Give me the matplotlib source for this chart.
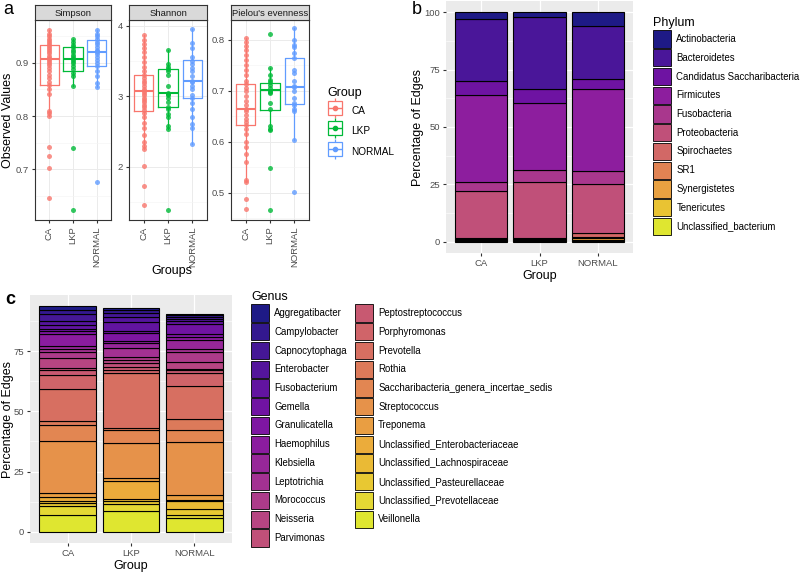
import numpy as np
import matplotlib
matplotlib.use('Agg')
import matplotlib.pyplot as plt
from matplotlib.patches import Patch
from matplotlib.lines import Line2D
from matplotlib.legend_handler import HandlerTuple

plt.rcParams['font.family'] = ['Liberation Sans', 'DejaVu Sans']

W, H = 800, 576

groups = ['CA', 'LKP', 'NORMAL']
group_colors = ['#F8766D', '#00BA38', '#619CFF']

# ---- panel a: alpha diversity (points per group) ----
simpson_CA = [0.963, 0.955, 0.950, 0.946, 0.942, 0.938, 0.934, 0.930, 0.926, 0.922, 0.918,
              0.914, 0.910, 0.907, 0.904, 0.900, 0.896, 0.890, 0.884, 0.878, 0.872, 0.865,
              0.858, 0.850, 0.842, 0.810, 0.805, 0.800, 0.742, 0.724, 0.702, 0.645]
simpson_LKP = [0.946, 0.940, 0.934, 0.930, 0.925, 0.920, 0.915, 0.911, 0.908, 0.904,
               0.900, 0.895, 0.888, 0.882, 0.875, 0.856, 0.740, 0.622]
simpson_NORMAL = [0.962, 0.955, 0.950, 0.945, 0.940, 0.935, 0.930, 0.925, 0.922, 0.920,
                  0.916, 0.912, 0.906, 0.900, 0.895, 0.885, 0.875, 0.862, 0.855, 0.676]
shannon_CA = [3.87, 3.80, 3.74, 3.68, 3.62, 3.55, 3.48, 3.42, 3.36, 3.30, 3.26, 3.22, 3.18,
              3.14, 3.10, 3.08, 3.05, 3.02, 2.98, 2.95, 2.92, 2.88, 2.84, 2.80, 2.76, 2.70,
              2.62, 2.55, 2.45, 2.35, 2.30, 2.25, 2.01, 1.72, 1.45]
shannon_LKP = [3.66, 3.45, 3.42, 3.38, 3.35, 3.30, 3.15, 3.05, 3.03, 3.02, 2.98, 2.92,
               2.85, 2.82, 2.75, 2.70, 2.58, 2.54, 1.38]
shannon_NORMAL = [3.95, 3.75, 3.68, 3.55, 3.50, 3.46, 3.40, 3.35, 3.28, 3.22, 3.20, 3.15,
                  3.10, 3.02, 2.98, 2.90, 2.82, 2.70, 2.60, 2.55, 2.32]
pielou_CA = [0.803, 0.795, 0.788, 0.780, 0.770, 0.760, 0.750, 0.740, 0.730, 0.720, 0.713,
             0.705, 0.700, 0.690, 0.680, 0.672, 0.665, 0.660, 0.652, 0.645, 0.638, 0.632,
             0.625, 0.615, 0.600, 0.590, 0.575, 0.560, 0.525, 0.520, 0.488, 0.468]
pielou_LKP = [0.811, 0.745, 0.730, 0.722, 0.718, 0.712, 0.705, 0.700, 0.698, 0.695, 0.675,
              0.665, 0.630, 0.625, 0.622, 0.548, 0.465]
pielou_NORMAL = [0.823, 0.800, 0.790, 0.785, 0.775, 0.765, 0.740, 0.735, 0.720, 0.710, 0.708,
                 0.700, 0.685, 0.675, 0.672, 0.665, 0.660, 0.603, 0.501]

# box stats per group: whisker low, q1, median, q3, whisker high
simpson_box = [[0.800, 0.858, 0.908, 0.933, 0.963],
               [0.856, 0.884, 0.908, 0.930, 0.946],
               [0.855, 0.895, 0.921, 0.943, 0.962]]
shannon_box = [[2.25, 2.79, 3.08, 3.30, 3.87],
               [2.53, 2.84, 3.04, 3.39, 3.66],
               [2.32, 2.98, 3.22, 3.51, 3.95]]
pielou_box = [[0.520, 0.632, 0.665, 0.713, 0.803],
              [0.622, 0.663, 0.702, 0.715, 0.745],
              [0.603, 0.673, 0.708, 0.765, 0.823]]

# ---- panel b: phylum composition ----
phylum_names = ['Actinobacteria', 'Bacteroidetes', 'Candidatus Saccharibacteria', 'Firmicutes',
                'Fusobacteria', 'Proteobacteria', 'Spirochaetes', 'SR1', 'Synergistetes',
                'Tenericutes', 'Unclassified_bacterium']
phylum_CA = [2.9, 26.9, 6.3, 37.7, 4.3, 20.4, 0.6, 0.1, 0.4, 0.1, 0.3]
phylum_LKP = [2.1, 31.5, 5.9, 29.1, 5.5, 24.2, 0.8, 0.1, 0.5, 0.1, 0.2]
phylum_NORMAL = [5.8, 23.3, 4.1, 36.1, 5.6, 21.4, 1.7, 0.6, 0.8, 0.2, 0.4]

# ---- panel c: genus composition ----
genus_names = ['Aggregatibacter', 'Campylobacter', 'Capnocytophaga', 'Enterobacter',
               'Fusobacterium', 'Gemella', 'Granulicatella', 'Haemophilus', 'Klebsiella',
               'Leptotrichia', 'Morococcus', 'Neisseria', 'Parvimonas', 'Peptostreptococcus',
               'Porphyromonas', 'Prevotella', 'Rothia', 'Saccharibacteria_genera_incertae_sedis',
               'Streptococcus', 'Treponema', 'Unclassified_Enterobacteriaceae',
               'Unclassified_Lachnospiraceae', 'Unclassified_Pasteurellaceae',
               'Unclassified_Prevotellaceae', 'Veillonella']
genus_CA = [1.7, 1.7, 2.7, 1.8, 1.4, 0.9, 1.4, 5.1, 1.0, 1.4, 2.5, 4.1, 0.7, 2.0, 6.0,
            13.2, 1.9, 6.6, 21.6, 1.4, 2.0, 0.7, 1.0, 4.1, 6.8]
genus_LKP = [0.8, 1.0, 1.8, 1.9, 3.8, 1.1, 3.0, 1.1, 1.9, 3.9, 1.1, 1.3, 1.7, 1.3, 1.0,
             23.0, 0.9, 5.2, 14.8, 1.0, 7.5, 1.1, 1.0, 3.0, 8.6]
genus_NORMAL = [0.6, 0.8, 0.8, 0.8, 1.1, 4.4, 1.1, 1.4, 3.6, 1.4, 4.1, 2.9, 0.5, 1.1, 5.5,
                13.7, 4.6, 5.0, 21.9, 2.0, 0.6, 3.1, 2.5, 1.6, 5.5]

TXT = '#4D4D4D'
TICK_FS = 6.8
fig = plt.figure(figsize=(W / 100, H / 100), dpi=100)


def px_axes(x0, y0, x1, y1):
    # pixel box (top-left origin) -> figure axes
    return fig.add_axes([x0 / W, 1 - y1 / H, (x1 - x0) / W, (y1 - y0) / H])


def muted_plasma(n):
    # plasma, slightly washed out like the printed figure
    cols = plt.cm.plasma(np.linspace(0, 1, n))
    cols[:, :3] = cols[:, :3] * 0.85 + 0.5 * 0.15
    return cols


def alpha_facet(x0, x1, title, pts, box, ylim, yticks):
    ax = px_axes(x0, 20, x1, 220)
    ax.set_xlim(0.4, 3.6)
    for i, c in enumerate(group_colors):
        lo, q1, med, q3, hi = box[i]
        st = dict(whislo=lo, q1=q1, med=med, q3=q3, whishi=hi)
        ax.bxp([st], positions=[i + 1], widths=0.8, showfliers=False, showcaps=False,
               boxprops=dict(color=c, lw=0.9), whiskerprops=dict(color=c, lw=0.9),
               medianprops=dict(color=c, lw=1.5))
        ax.plot(np.full(len(pts[i]), i + 1), pts[i], 'o', color=c, ms=3.6,
                alpha=0.8, mec='none', zorder=3)
    ax.set_xticks([1, 2, 3])
    ax.set_xticklabels(groups, rotation=90)
    ax.set_yticks(yticks)
    step = yticks[1] - yticks[0]
    ax.set_yticks(np.arange(yticks[0] - 2 * step, yticks[-1] + 2 * step, step / 2), minor=True)
    ax.set_ylim(ylim)
    ax.grid(which='major', color='#EBEBEB', lw=0.7)
    ax.grid(which='minor', axis='y', color='#F4F4F4', lw=0.4)
    ax.set_axisbelow(True)
    for s in ax.spines.values():
        s.set_color('#333333')
        s.set_linewidth(0.8)
    ax.tick_params(which='major', length=2.5, color='#333333', labelsize=TICK_FS,
                   labelcolor=TXT, pad=2)
    ax.tick_params(which='minor', length=0)
    # facet strip
    st_ax = px_axes(x0, 5, x1, 20)
    st_ax.set_facecolor('#D9D9D9')
    st_ax.set_xticks([])
    st_ax.set_yticks([])
    for s in st_ax.spines.values():
        s.set_color('#333333')
        s.set_linewidth(0.8)
    st_ax.text(0.5, 0.45, title, ha='center', va='center', fontsize=6.8, color='#1A1A1A',
               transform=st_ax.transAxes)
    return ax


ax1 = alpha_facet(35, 111, 'Simpson', [simpson_CA, simpson_LKP, simpson_NORMAL], simpson_box,
                  (0.604, 0.981), [0.7, 0.8, 0.9])
ax1.set_yticklabels(['0.7', '0.8', '0.9'])
ax1.set_ylabel('Observed Values', fontsize=9)
# ylabel anchor is its right edge
ax1.yaxis.set_label_coords((14 - 35) / 76, 0.5)
ax2 = alpha_facet(129, 207, 'Shannon', [shannon_CA, shannon_LKP, shannon_NORMAL], shannon_box,
                  (1.244, 4.08), [2, 3, 4])
ax3 = alpha_facet(231, 309, "Pielou's evenness", [pielou_CA, pielou_LKP, pielou_NORMAL],
                  pielou_box, (0.446, 0.839), [0.5, 0.6, 0.7, 0.8])
fig.text(172 / W, 1 - 271 / H, 'Groups', ha='center', va='center', fontsize=9)

grp_handles = []
for c in group_colors:
    grp_handles.append((Line2D([], [], marker='|', ms=15, mew=0.9, color=c, ls='none'),
                        Line2D([], [], marker='s', ms=10, mew=0.9, mfc='white', mec=c, ls='none'),
                        Line2D([], [], marker='_', ms=10, mew=1.0, color=c, ls='none'),
                        Line2D([], [], marker='o', ms=3, color=c, ls='none')))
fig.legend(grp_handles, groups, loc='upper left', bbox_to_anchor=(327 / W, 1 - 87 / H),
           frameon=False, title='Group', title_fontsize=9, fontsize=7.2,
           handler_map={tuple: HandlerTuple(ndivide=1, pad=0)},
           handlelength=1.5, handleheight=2.3, labelspacing=0.3, handletextpad=0.9,
           borderpad=0, borderaxespad=0, alignment='left')


def stacked_panel(ax, names, series, colors, ylim):
    ax.set_facecolor('#EBEBEB')
    x = np.arange(1, len(series) + 1)
    bottoms = np.zeros(len(series))
    vals = np.array(series)
    for j in range(len(names) - 1, -1, -1):
        ax.bar(x, vals[:, j], bottom=bottoms, width=0.9, color=colors[j],
               edgecolor='black', linewidth=0.8, zorder=2)
        bottoms += vals[:, j]
    ax.set_xlim(0.4, 3.6)
    ax.set_xticks(x)
    ax.set_xticklabels(groups)
    ax.set_yticks([0, 25, 50, 75, 100])
    ax.set_yticks([12.5, 37.5, 62.5, 87.5], minor=True)
    ax.set_ylim(ylim)
    ax.grid(which='major', color='white', lw=0.9)
    ax.grid(which='minor', axis='y', color='white', lw=0.4)
    ax.set_axisbelow(True)
    for s in ax.spines.values():
        s.set_visible(False)
    ax.tick_params(which='major', length=2.5, color='#333333', labelsize=TICK_FS,
                   labelcolor=TXT, pad=2)
    ax.tick_params(which='minor', length=0)
    ax.set_ylabel('Percentage of Edges', fontsize=9)
    ax.set_xlabel('Group', fontsize=9, labelpad=1)


LEG = dict(frameon=False, title_fontsize=9, fontsize=6.9, handlelength=1.85,
           handleheight=2.4, labelspacing=0.15, handletextpad=0.6, borderpad=0,
           borderaxespad=0, alignment='left')

phylum_colors = muted_plasma(len(phylum_names))
ax_b = px_axes(446, 1, 633, 253)
stacked_panel(ax_b, phylum_names, [phylum_CA, phylum_LKP, phylum_NORMAL], phylum_colors, (-5, 105))
ax_b.yaxis.set_label_coords((424 - 446) / 187, 0.5)
ph_handles = [Patch(facecolor=c, edgecolor='black', lw=0.6) for c in phylum_colors]
fig.legend(ph_handles, phylum_names, loc='upper left', bbox_to_anchor=(653 / W, 1 - 17 / H),
           title='Phylum', **LEG)

genus_colors = muted_plasma(len(genus_names))
ax_c = px_axes(30, 295, 232, 543)
top_c = max(sum(genus_CA), sum(genus_LKP), sum(genus_NORMAL))
stacked_panel(ax_c, genus_names, [genus_CA, genus_LKP, genus_NORMAL], genus_colors,
              (-0.05 * top_c, 1.05 * top_c))
ax_c.yaxis.set_label_coords((14 - 30) / 202, 0.5)
gn_handles = [Patch(facecolor=c, edgecolor='black', lw=0.6) for c in genus_colors]
fig.legend(gn_handles, genus_names, loc='upper left', bbox_to_anchor=(251 / W, 1 - 291 / H),
           title='Genus', ncol=2, columnspacing=0.8, **LEG)

# panel letters
fig.text(3 / W, 1 - 9 / H, 'a', fontsize=13, ha='left', va='center')
fig.text(412 / W, 1 - 10 / H, 'b', fontsize=13, ha='left', va='center')
fig.text(5 / W, 1 - 299 / H, 'c', fontsize=13, ha='left', va='center', fontweight='bold')

fig.savefig('out.png', dpi=100)
